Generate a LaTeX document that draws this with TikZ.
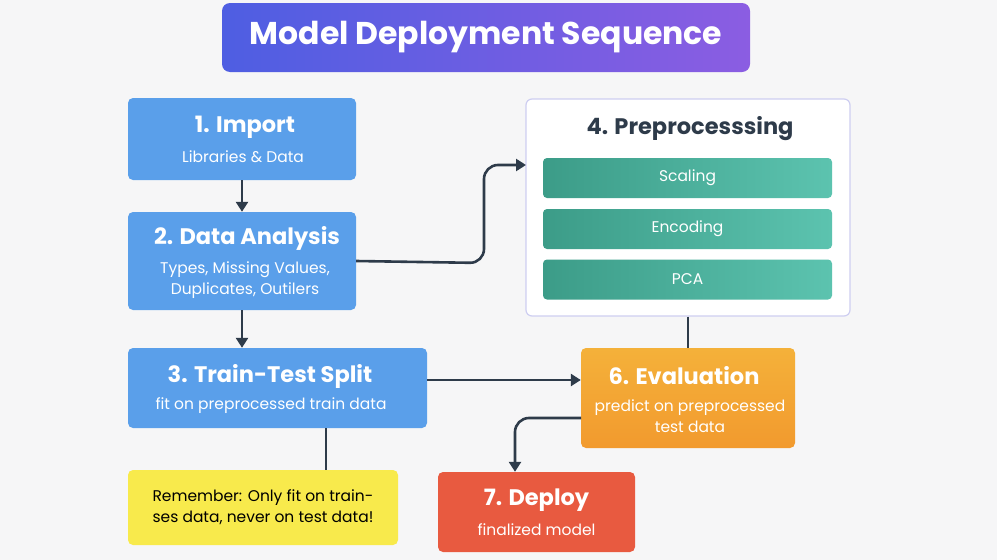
\documentclass[tikz,border=0pt]{standalone}
\usepackage{fontspec}
\setmainfont{Poppins}
\usetikzlibrary{arrows.meta}
\definecolor{bg}{HTML}{F6F6F7}
\definecolor{bl}{HTML}{5A9FEA}
\definecolor{dk}{HTML}{2E3B4A}
\definecolor{tl1}{HTML}{3C9C88}
\definecolor{tl2}{HTML}{5CC3AF}
\definecolor{or1}{HTML}{F4B13A}
\definecolor{or2}{HTML}{F29A2E}
\definecolor{rd}{HTML}{E85A40}
\definecolor{yl}{HTML}{F8EA4C}
\definecolor{pu1}{HTML}{4E5EE2}
\definecolor{pu2}{HTML}{8B5DE2}
\begin{document}
\begin{tikzpicture}[x=1pt,y=-1pt,
 box/.style={rounded corners=5pt,draw=none,text=white,align=center},
 ttl/.style={font=\bfseries\fontsize{22.5}{26}\selectfont},
 sub/.style={font=\fontsize{15.5}{21}\selectfont},
 bar/.style={rounded corners=4pt,left color=tl1,right color=tl2,text=white,font=\fontsize{15.5}{18}\selectfont,minimum width=289pt,minimum height=40pt},
 ar/.style={draw=dk,line width=2.6pt,-{Triangle[length=10pt,width=12pt]},rounded corners=14pt},
 ln/.style={draw=dk,line width=2.6pt}]
\useasboundingbox (0,0) rectangle (997,560);
\fill[bg] (0,0) rectangle (997,560);
% title
\node[box,left color=pu1,right color=pu2,minimum width=528pt,minimum height=69pt,rounded corners=8pt,font=\bfseries\fontsize{31.5}{36}\selectfont] (title) at (486,37.5) {Model Deployment Sequence};
% boxes
\node[box,fill=bl,minimum width=228pt,minimum height=82pt] (b1) at (242,139) {};
\node[ttl,text=white] at (245,127) {1. Import};
\node[sub,text=white] at (243,157) {Libraries \& Data};
\node[box,fill=bl,minimum width=228pt,minimum height=98pt] (b2) at (242,261) {};
\node[ttl,text=white] at (247,238) {2. Data Analysis};
\node[sub,text=white,align=center] at (245,280) {Types, Missing Values,\\Duplicates, Outilers};
\node[box,fill=bl,minimum width=299pt,minimum height=80pt] (b3) at (277.5,388) {};
\node[ttl,text=white] at (270,376) {3. Train-Test Split};
\node[sub,text=white] at (271,406) {fit on preprocessed train data};
\node[box,fill=yl,minimum width=270pt,minimum height=75pt,text=black,font=\fontsize{15.5}{21}\selectfont] (note) at (263,507.5) {Remember: Only fit on train-\\ses data, never on test data!};
% preprocessing
\node[rounded corners=6pt,draw=gray!45!blue!25,line width=1.2pt,fill=white,minimum width=324pt,minimum height=217pt] (b4) at (688,207.5) {};
\node[ttl,text=dk] at (690,129) {4. Preprocesssing};
\node[bar] (s1) at (687.5,178) {Scaling};
\node[bar] (s2) at (687.5,229) {Encoding};
\node[bar] (s3) at (687.5,279.5) {PCA};
% evaluation
\node[box,top color=or1,bottom color=or2,minimum width=214pt,minimum height=100pt] (b6) at (688,398) {};
\node[ttl,text=white] at (684,376) {6. Evaluation};
\node[sub,text=white,align=center] at (690,416) {predict on preprocessed\\test data};
% deploy
\node[box,fill=rd,minimum width=197pt,minimum height=80pt] (b7) at (536.5,512) {};
\node[ttl,text=white] at (536.5,500) {7. Deploy};
\node[sub,text=white] at (536.5,530) {finalized model};
% connectors
\draw[ar] (b1.south) -- (b2.north);
\draw[ar] (b2.south) -- (b2.south|-b3.north);
\draw[ar] (b2.east) -- (484,263) -- (484,165) -- (526,165);
\draw[ar] (b3.east|-0,380) -- (b6.west|-0,380);
\draw[ln] (b4.south) -- (b6.north);
\draw[ln] (326,428) -- (326,470);
\draw[ar] (581,418) -- (515,418) -- (b7.north-|515,0);
\end{tikzpicture}
\end{document}
